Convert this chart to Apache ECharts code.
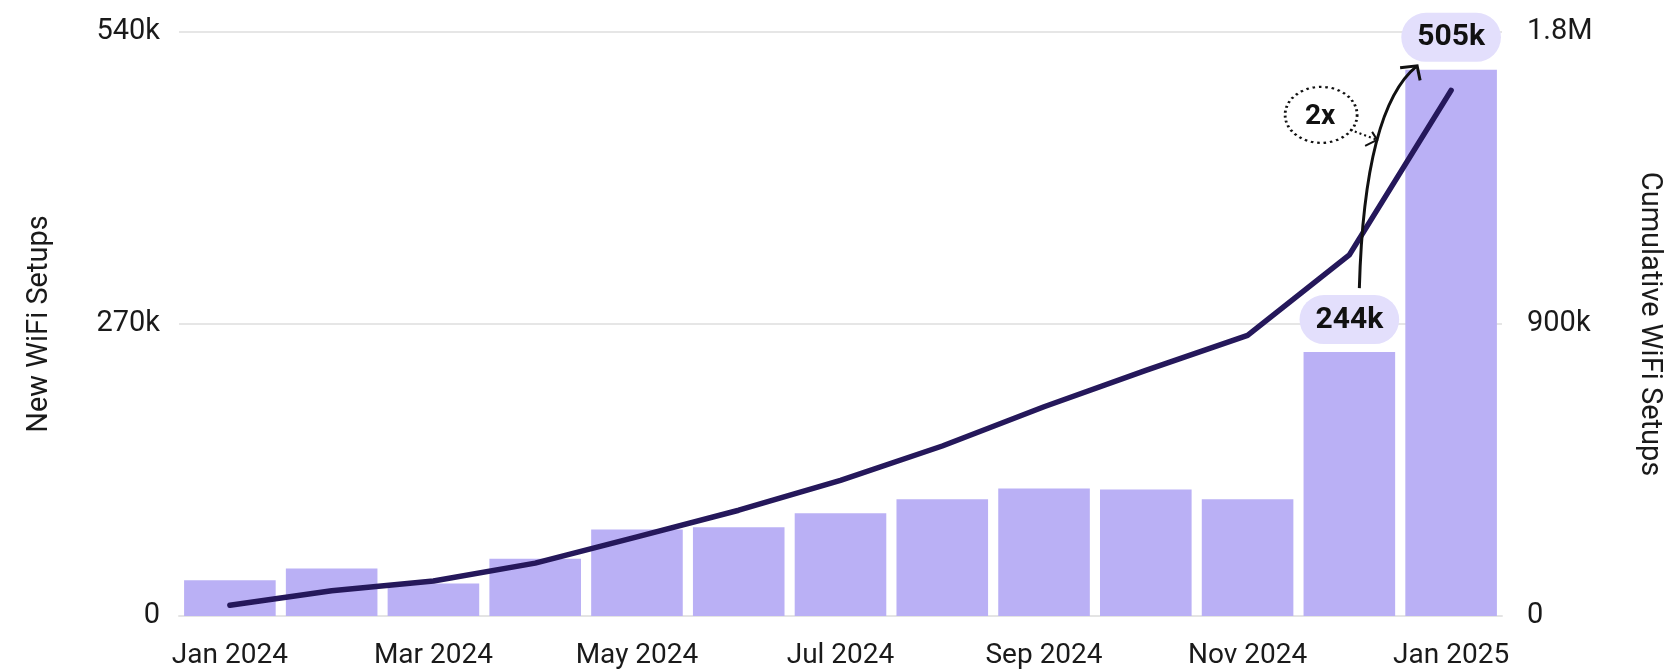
<!DOCTYPE html>
<html>
<head>
<meta charset="utf-8">
<script src="https://cdn.jsdelivr.net/npm/echarts@6/dist/echarts.min.js"></script>
<style>
  html, body { margin: 0; padding: 0; background: #fff; }
  #chart { width: 1664px; height: 672px; }
</style>
</head>
<body>
<div id="chart"></div>
<script>
// monthly new setups (bars) and running total (line)
const months = ['Jan 2024', 'Feb 2024', 'Mar 2024', 'Apr 2024', 'May 2024', 'Jun 2024', 'Jul 2024',
  'Aug 2024', 'Sep 2024', 'Oct 2024', 'Nov 2024', 'Dec 2024', 'Jan 2025']
const newSetups = [33000, 44000, 30000, 53000, 80000, 82000, 95000, 108000, 118000, 117000, 108000, 244000, 505000]
const cumulativeSetups = [33000, 78000, 108000, 163000, 244000, 326000, 418000, 524000, 645000, 757000, 865000, 1113000, 1620000]
const leftTicks = [0, 270000, 540000]
const rightTicks = [0, 900000, 1800000]
const labelledMonths = ['Dec 2024', 'Jan 2025']
const growthText = '2x'

const FONT = 'Roboto'
const BAR = '#bab0f5'
const LINE = '#25185b'
const PILL = '#e3dffc'
const TEXT = '#1a1a1a'

function shortNum(v) {
  if (v >= 1000000) return (v / 1000000) + 'M'
  if (v >= 1000) return Math.round(v / 1000) + 'k'
  return String(v)
}

const chart = echarts.init(document.getElementById('chart'))

const barData = newSetups.map((v, i) => {
  if (labelledMonths.indexOf(months[i]) < 0) return v
  return {
    value: v,
    label: {
      show: true,
      position: 'top',
      distance: 8,
      formatter: p => shortNum(p.value),
      backgroundColor: PILL,
      borderRadius: 25,
      padding: [10, 16, 9, 16],
      fontFamily: FONT,
      fontSize: 30,
      fontWeight: 'bold',
      color: '#111'
    }
  }
})

var option = {
  animation: false,
  textStyle: { fontFamily: FONT },
  grid: {
    top: 32,
    bottom: 56,
    left: 179,
    right: 162,
    containLabel: false,
    outerBoundsMode: 'none'
  },
  xAxis: {
    type: 'category',
    data: months,
    axisLine: { lineStyle: { color: '#e4e4e4', width: 2 } },
    axisTick: {
      interval: 1,
      alignWithLabel: true,
      length: 10,
      lineStyle: { color: '#e4e4e4', width: 2 }
    },
    axisLabel: {
      interval: 1,
      margin: 26,
      fontSize: 28,
      color: TEXT,
      fontFamily: FONT
    }
  },
  yAxis: [
    {
      type: 'value',
      min: leftTicks[0],
      max: leftTicks[leftTicks.length - 1],
      interval: leftTicks[1] - leftTicks[0],
      name: 'New WiFi Setups',
      nameLocation: 'middle',
      nameGap: 125,
      nameTextStyle: { fontSize: 29, color: TEXT, fontFamily: FONT },
      axisLine: { show: false },
      axisTick: { show: false },
      axisLabel: {
        margin: 19,
        fontSize: 29,
        color: TEXT,
        fontFamily: FONT,
        padding: [0, 0, 13, 0],
        formatter: shortNum
      },
      splitLine: { lineStyle: { color: '#e6e6e6', width: 2 } }
    },
    {
      type: 'value',
      position: 'right',
      min: rightTicks[0],
      max: rightTicks[rightTicks.length - 1],
      interval: rightTicks[1] - rightTicks[0],
      name: 'Cumulative WiFi Setups',
      nameLocation: 'middle',
      nameRotate: -90,
      nameGap: 133,
      nameTextStyle: { fontSize: 29, color: TEXT, fontFamily: FONT },
      axisLine: { show: false },
      axisTick: { show: false },
      axisLabel: {
        margin: 25,
        fontSize: 29,
        color: TEXT,
        fontFamily: FONT,
        padding: [0, 0, 13, 0],
        formatter: shortNum
      },
      splitLine: { show: false }
    }
  ],
  series: [
    {
      name: 'New WiFi Setups',
      type: 'bar',
      yAxisIndex: 0,
      barCategoryGap: '10%',
      itemStyle: { color: BAR },
      data: barData,
      z: 2
    },
    {
      name: 'Cumulative WiFi Setups',
      type: 'line',
      yAxisIndex: 1,
      smooth: false,
      showSymbol: false,
      lineStyle: { color: LINE, width: 5.5, cap: 'round', join: 'round' },
      data: cumulativeSetups,
      z: 3
    }
  ]
}

chart.setOption(option)

// annotation: curved arrow from the Dec pill to the Jan pill, with the "2x" bubble
function drawNotes() {
  const iDec = months.indexOf(labelledMonths[0])
  const iJan = months.indexOf(labelledMonths[1])
  const dec = chart.convertToPixel({ xAxisIndex: 0, yAxisIndex: 0 }, [iDec, newSetups[iDec]])
  const jan = chart.convertToPixel({ xAxisIndex: 0, yAxisIndex: 0 }, [iJan, newSetups[iJan]])
  const tip = [jan[0] - 34, jan[1] - 4]
  const start = [dec[0] + 10, dec[1] - 64]
  const ink = '#111'
  chart.setOption({
    graphic: [
      {
        type: 'bezierCurve',
        z: 100,
        shape: { x1: start[0], y1: start[1], cpx1: dec[0] + 15, cpy1: jan[1] + 38, x2: tip[0], y2: tip[1] },
        style: { stroke: ink, lineWidth: 3, fill: null }
      },
      {
        type: 'polyline',
        z: 100,
        shape: { points: [[tip[0] - 17, tip[1] + 2], tip, [tip[0] + 3, tip[1] + 14.5]] },
        style: { stroke: ink, lineWidth: 3, fill: null }
      },
      {
        type: 'circle',
        z: 100,
        x: tip[0] - 96,
        y: tip[1] + 49,
        scaleX: 36 / 28,
        shape: { cx: 0, cy: 0, r: 28 },
        style: { stroke: ink, lineWidth: 2.2, lineDash: [2, 3], fill: '#fff' }
      },
      {
        type: 'text',
        z: 101,
        x: tip[0] - 97,
        y: tip[1] + 51,
        style: {
          text: growthText,
          fontFamily: FONT,
          fontSize: 28,
          fontWeight: 'bold',
          fill: ink,
          align: 'center',
          verticalAlign: 'middle'
        }
      },
      {
        type: 'polyline',
        z: 100,
        shape: { points: [[tip[0] - 67, tip[1] + 64], [tip[0] - 40, tip[1] + 74]] },
        style: { stroke: ink, lineWidth: 2.2, lineDash: [2, 3], fill: null }
      },
      {
        type: 'polyline',
        z: 100,
        shape: { points: [[tip[0] - 45, tip[1] + 66], [tip[0] - 40, tip[1] + 74], [tip[0] - 52, tip[1] + 80]] },
        style: { stroke: ink, lineWidth: 2, fill: null }
      }
    ]
  })
}

drawNotes()
</script>
</body>
</html>
